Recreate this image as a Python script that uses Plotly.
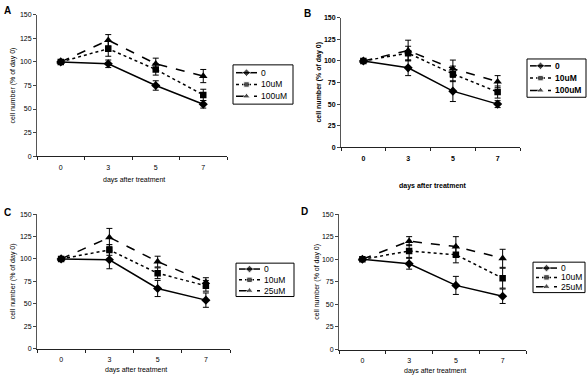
import plotly.graph_objects as go

W, H = 587, 381

days = ["0", "3", "5", "7"]
xpos = [0, 1, 2, 3]

# Panel A
A_ctrl = [100, 98, 75, 55]
A_ctrl_err = [0, 4, 5, 4]
A_low = [100, 114, 92, 65]
A_low_err = [0, 8, 6, 6]
A_high = [100, 123, 98, 85]
A_high_err = [0, 6, 6, 7]
A_names = ["0", "10uM", "100uM"]

# Panel B
B_ctrl = [100, 92, 65, 50]
B_ctrl_err = [0, 9, 12, 4]
B_low = [100, 109, 85, 64]
B_low_err = [0, 8, 9, 7]
B_high = [100, 112, 91, 76]
B_high_err = [0, 12, 10, 7]
B_names = ["0", "10uM", "100uM"]

# Panel C
C_ctrl = [100, 99, 67, 54]
C_ctrl_err = [0, 10, 9, 8]
C_low = [100, 110, 84, 70]
C_low_err = [0, 6, 6, 6]
C_high = [100, 124, 97, 74]
C_high_err = [0, 10, 6, 5]
C_names = ["0", "10uM", "25uM"]

# Panel D
D_ctrl = [100, 95, 71, 59]
D_ctrl_err = [0, 6, 10, 8]
D_low = [100, 109, 105, 79]
D_low_err = [0, 7, 9, 11]
D_high = [100, 120, 114, 101]
D_high_err = [0, 5, 11, 10]
D_names = ["0", "10uM", "25uM"]

y_ticks = [0, 25, 50, 75, 100, 125, 150]

FONT = "Liberation Sans, Arial, sans-serif"

panels = [
    # label, data, names, plot box (x0, x1, ytop(150), ybottom(0)),
    # legend box (x0, y0, x1, y1, row_gap), label pos, ytitle x, xtitle y, bold
    ("A", (A_ctrl, A_ctrl_err, A_low, A_low_err, A_high, A_high_err), A_names,
     (37, 227, 11, 155), (233, 62, 293, 102, 12), (7, 7), 13, 179, False),
    ("B", (B_ctrl, B_ctrl_err, B_low, B_low_err, B_high, B_high_err), B_names,
     (341, 520, 14, 146), (527, 56, 586, 95, 12.5), (307, 10), 319, 185, True),
    ("C", (C_ctrl, C_ctrl_err, C_low, C_low_err, C_high, C_high_err), C_names,
     (37, 230, 214, 351), (236, 264, 294, 298, 11), (7, 212), 13, 373, False),
    ("D", (D_ctrl, D_ctrl_err, D_low, D_low_err, D_high, D_high_err), D_names,
     (339, 526, 214, 352), (533, 263, 585, 294, 9.5), (304, 211), 317, 374, False),
]

styles = [
    dict(dash="solid", symbol="diamond", size=7),
    dict(dash="dot", symbol="square", size=6.5),
    dict(dash="dash", symbol="triangle-up", size=7.5),
]

fig = go.Figure()
layout = dict(
    width=W, height=H, margin=dict(l=0, r=0, t=0, b=0),
    paper_bgcolor="white", plot_bgcolor="rgba(0,0,0,0)",
    font=dict(family=FONT, size=7, color="black"),
    showlegend=False,
)
annotations = []
shapes = []

# overlay axis in pixel units for legend keys
layout["xaxis5"] = dict(domain=[0, 1], range=[0, W], visible=False, fixedrange=True, anchor="y5")
layout["yaxis5"] = dict(domain=[0, 1], range=[H, 0], visible=False, fixedrange=True, anchor="x5")

for i, (lab, data, names, box, leg, labpos, ytx, xty, bold) in enumerate(panels):
    n = i + 1
    xa = "xaxis" if n == 1 else f"xaxis{n}"
    ya = "yaxis" if n == 1 else f"yaxis{n}"
    xr = "x" if n == 1 else f"x{n}"
    yr = "y" if n == 1 else f"y{n}"
    wt = "bold" if bold else "normal"
    x0, x1, yt, yb = box
    layout[xa] = dict(
        domain=[x0 / W, x1 / W], anchor=yr, range=[-0.5, 3.5],
        tickmode="array", tickvals=xpos, ticktext=days,
        ticks="outside", ticklen=4, tickcolor="rgba(0,0,0,0)",
        tickfont=dict(size=7, weight=wt),
        minor=dict(tickmode="array", tickvals=[-0.5, 0.5, 1.5, 2.5, 3.5],
                   ticks="outside", ticklen=3, tickcolor="#222", tickwidth=1),
        showline=True, linecolor="#222", linewidth=1, showgrid=False, zeroline=False,
        fixedrange=True,
    )
    layout[ya] = dict(
        domain=[1 - yb / H, 1 - yt / H], anchor=xr, range=[0, 150],
        tickmode="array", tickvals=y_ticks,
        ticks="outside", ticklen=3, tickcolor="#444",
        tickfont=dict(size=7, weight=wt),
        showline=True, linecolor="#555", linewidth=1, showgrid=False, zeroline=False,
        fixedrange=True,
    )
    vals = [(data[0], data[1]), (data[2], data[3]), (data[4], data[5])]
    lx0, ly0, lx1, ly1, gap = leg
    shapes.append(dict(type="rect", xref="paper", yref="paper",
                       x0=lx0 / W, x1=lx1 / W, y0=1 - ly0 / H, y1=1 - ly1 / H,
                       line=dict(color="black", width=1)))
    row0 = (ly0 + ly1) / 2 - gap
    for k, ((yv, ev), st, nm) in enumerate(zip(vals, styles, names)):
        fig.add_trace(go.Scatter(
            x=xpos, y=yv, name=nm, xaxis=xr, yaxis=yr,
            mode="lines+markers",
            line=dict(color="black", width=1.5, dash=st["dash"]),
            marker=dict(symbol=st["symbol"], size=st["size"], color="black"),
            error_y=dict(type="data", array=ev, visible=True, color="black",
                         thickness=1, width=3),
        ))
        ry = row0 + k * gap
        kx0, kx1 = lx0 + 3, lx0 + 24
        fig.add_trace(go.Scatter(
            x=[kx0, (kx0 + kx1) / 2, kx1], y=[ry, ry, ry], xaxis="x5", yaxis="y5",
            mode="lines+markers", hoverinfo="skip",
            line=dict(color="black", width=1.5, dash=st["dash"]),
            marker=dict(symbol=st["symbol"], size=[0, st["size"] - 1, 0], color="black"),
        ))
        annotations.append(dict(
            text=nm, x=(kx1 + 2) / W, y=1 - ry / H, xref="paper", yref="paper",
            showarrow=False, xanchor="left", yanchor="middle",
            font=dict(size=8.5, family=FONT, weight="bold" if bold else "normal")))
    annotations.append(dict(
        text=f"<b>{lab}</b>", x=labpos[0] / W, y=1 - labpos[1] / H,
        xref="paper", yref="paper", showarrow=False,
        font=dict(size=10, family=FONT), xanchor="center", yanchor="middle"))
    annotations.append(dict(
        text="cell number (% of day 0)", x=ytx / W, y=1 - ((yt + yb) / 2) / H,
        xref="paper", yref="paper", showarrow=False, textangle=-90,
        font=dict(size=7, family=FONT, weight=wt), xanchor="center", yanchor="middle"))
    annotations.append(dict(
        text="days after treatment", x=((x0 + x1) / 2 + 2) / W, y=1 - xty / H,
        xref="paper", yref="paper", showarrow=False,
        font=dict(size=7, family=FONT, weight=wt), xanchor="center", yanchor="middle"))

layout["annotations"] = annotations
layout["shapes"] = shapes
fig.update_layout(**layout)
fig.write_html("out.html", config={"displayModeBar": False, "staticPlot": True},
               post_script="document.body.style.margin='0';document.body.style.overflow='hidden';")
